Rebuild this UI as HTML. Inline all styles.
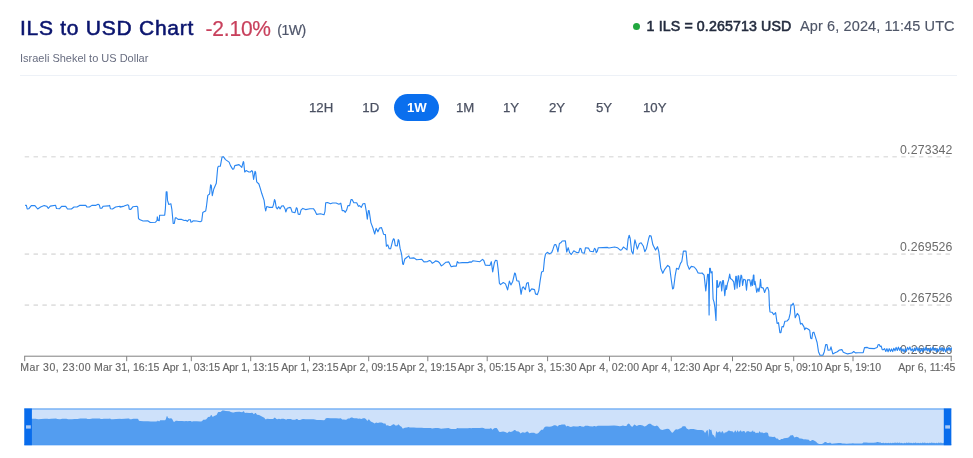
<!DOCTYPE html>
<html><head><meta charset="utf-8">
<style>
html,body{margin:0;padding:0;background:#fff;}
body{will-change:transform;width:973px;height:458px;position:relative;overflow:hidden;font-family:"Liberation Sans",sans-serif;}
.abs{position:absolute;white-space:nowrap;line-height:1;}
#title{left:19.9px;top:16.9px;font-size:21px;font-weight:normal;color:#0a146e;letter-spacing:0.75px;-webkit-text-stroke:0.55px #0a146e;}
#pct{left:205.5px;top:18px;font-size:21px;color:#c8405c;letter-spacing:-0.2px;transform:scaleY(1.09);transform-origin:0 84%;-webkit-text-stroke:0.2px #c8405c;}
#per{left:277.3px;top:23.2px;font-size:14px;color:#4f566b;letter-spacing:-0.45px;-webkit-text-stroke:0.2px #4f566b;}
#sub{left:20px;top:53px;font-size:11px;color:#686d80;}
#hr{left:20px;top:75px;width:937px;height:1px;background:#edf1f7;}
#dot{left:632.9px;top:22.7px;width:7.4px;height:7.4px;border-radius:50%;background:#22a83f;}
#rate{left:646.6px;top:19.3px;font-size:14.2px;font-weight:normal;color:#232b3e;letter-spacing:0.12px;-webkit-text-stroke:0.55px #232b3e;}
#date{left:800px;top:19px;font-size:14.5px;color:#4f5668;letter-spacing:0.12px;-webkit-text-stroke:0.15px #4f5668;}
.tab{font-size:13.2px;color:#4b5162;top:101px;-webkit-text-stroke:0.25px #4b5162;}
#pill{left:394px;top:94px;width:45px;height:27px;border-radius:14px;background:#0a6fee;}
.yl{font-size:12.3px;color:#6b6b6b;right:20.4px;margin-top:-0.3px;letter-spacing:0.15px;}
.xl{font-size:10.5px;color:#666;top:362.3px;-webkit-text-stroke:0.15px #666;}
</style></head><body>
<div class="abs" id="title">ILS to USD Chart</div>
<div class="abs" id="pct">-2.10%</div>
<div class="abs" id="per">(1W)</div>
<div class="abs" id="sub">Israeli Shekel to US Dollar</div>
<div class="abs" id="hr"></div>
<div class="abs" id="dot"></div>
<div class="abs" id="rate">1 ILS = 0.265713 USD</div>
<div class="abs" id="date">Apr 6, 2024, 11:45 UTC</div>

<div class="abs" id="pill"></div>
<div class="abs tab" style="left:309px">12H</div>
<div class="abs tab" style="left:362.3px">1D</div>
<div class="abs tab" style="left:407px;color:#fff;font-weight:bold;-webkit-text-stroke:0">1W</div>
<div class="abs tab" style="left:456px">1M</div>
<div class="abs tab" style="left:503px">1Y</div>
<div class="abs tab" style="left:549px">2Y</div>
<div class="abs tab" style="left:596px">5Y</div>
<div class="abs tab" style="left:643px">10Y</div>

<div class="abs yl" style="top:144px">0.273342</div>
<div class="abs yl" style="top:241px">0.269526</div>
<div class="abs yl" style="top:292px">0.267526</div>
<div class="abs yl" style="top:344.5px">0.265526</div>
<svg class="abs" id="chart" style="left:0;top:0" width="973" height="458" viewBox="0 0 973 458">
 <g stroke="#e1e1e1" stroke-width="1.6" stroke-dasharray="4.427 4.427" fill="none">
  <line x1="24.7" y1="156.7" x2="950" y2="156.7"/>
  <line x1="24.7" y1="254.1" x2="950" y2="254.1"/>
  <line x1="24.7" y1="305.1" x2="950" y2="305.1"/>
 </g>
 <g stroke="#808080" stroke-width="1" fill="none">
  <line x1="24.2" y1="356.2" x2="951.8" y2="356.2"/>
  <line x1="24.7" y1="356.2" x2="24.7" y2="361.2"/><line x1="126.7" y1="356.2" x2="126.7" y2="361.2"/><line x1="191.3" y1="356.2" x2="191.3" y2="361.2"/><line x1="250.7" y1="356.2" x2="250.7" y2="361.2"/><line x1="309.5" y1="356.2" x2="309.5" y2="361.2"/><line x1="368.7" y1="356.2" x2="368.7" y2="361.2"/><line x1="427.8" y1="356.2" x2="427.8" y2="361.2"/><line x1="487.2" y1="356.2" x2="487.2" y2="361.2"/><line x1="547.6" y1="356.2" x2="547.6" y2="361.2"/><line x1="609.5" y1="356.2" x2="609.5" y2="361.2"/><line x1="671.3" y1="356.2" x2="671.3" y2="361.2"/><line x1="732.5" y1="356.2" x2="732.5" y2="361.2"/><line x1="793.7" y1="356.2" x2="793.7" y2="361.2"/><line x1="853" y1="356.2" x2="853" y2="361.2"/><line x1="951.2" y1="356.2" x2="951.2" y2="361.2"/>
 </g>
 <polyline id="line" fill="none" stroke="#2986f2" stroke-width="1.12" stroke-linejoin="round" points="25.1,205.4 26.4,205.4 27.2,209.0 28.7,208.8 31.3,205.6 34.9,205.6 37.7,209.0 40.6,207.0 44.2,205.6 46.7,206.2 48.3,208.3 50.3,206.1 55.5,205.2 56.5,208.5 59.6,208.7 61.6,206.4 65.7,206.4 67.5,209.0 71.4,209.0 74.0,207.0 77.0,207.0 79.6,205.4 85.8,205.2 86.8,207.0 89.4,207.0 91.9,205.4 95.5,205.4 98.1,204.2 99.3,204.9 100.2,208.3 101.7,208.3 103.2,206.2 108.4,205.9 109.6,205.4 110.4,208.7 112.5,209.0 115.6,207.0 120.0,206.2 120.0,207.1 124.1,206.1 127.7,204.7 128.7,205.6 129.2,209.2 130.8,209.4 132.8,206.8 137.0,206.3 137.7,207.1 138.5,218.4 139.5,219.6 143.1,221.0 147.7,220.7 150.3,222.5 155.5,222.2 157.0,220.5 157.3,216.9 158.2,220.5 159.3,220.7 159.6,215.3 164.7,215.1 165.4,208.6 166.2,191.7 167.0,191.7 167.5,200.4 168.8,204.5 170.9,203.8 171.9,209.7 173.2,223.5 174.3,223.5 175.3,217.9 176.3,217.9 178.1,219.4 181.7,219.4 184.2,220.5 185.8,220.3 187.3,221.3 188.9,219.7 190.4,219.7 190.9,222.2 192.3,221.8 193.0,220.7 196.6,221.0 200.2,221.7 201.7,221.0 202.8,212.4 204.0,211.7 205.7,211.0 206.4,206.7 207.8,195.4 209.6,194.0 210.6,184.8 211.3,185.5 212.3,195.7 213.8,189.0 216.3,183.3 217.7,167.7 218.4,166.3 220.3,166.3 222.0,157.1 223.4,156.7 225.5,159.6 229.1,162.1 230.5,165.6 232.6,169.1 233.8,168.9 234.8,165.6 239.0,164.6 241.8,167.3 243.3,161.6 243.7,162.1 244.7,172.0 246.1,170.6 248.9,172.0 250.4,172.0 251.8,170.6 252.5,171.3 253.6,179.5 255.0,171.3 255.6,172.0 256.7,181.9 258.9,184.0 260.3,188.3 261.7,193.3 264.1,200.4 265.0,207.4 265.7,211.0 266.7,206.5 269.5,207.4 272.6,207.4 273.5,204.6 274.5,199.6 275.2,201.1 276.2,207.4 277.3,208.9 278.7,206.7 280.1,208.9 281.6,206.0 283.4,205.7 285.1,208.9 285.8,212.0 287.2,208.2 290.1,207.4 290.7,207.7 292.1,212.0 295.0,212.7 296.4,207.7 297.1,208.4 298.2,214.1 299.9,214.4 301.1,209.9 302.8,208.4 305.6,209.6 309.9,208.7 313.4,208.7 314.8,210.6 316.7,214.4 320.5,213.8 324.0,214.8 325.0,211.3 325.7,202.8 327.6,202.5 330.4,203.8 332.6,203.0 336.1,203.0 338.9,204.2 340.8,203.2 342.2,210.6 343.9,210.6 345.3,212.3 346.7,209.9 347.9,205.6 349.6,205.6 351.0,199.6 352.1,199.6 353.8,202.8 356.7,202.8 358.4,206.3 359.5,205.6 361.3,207.3 363.0,203.8 364.9,203.5 366.3,211.3 367.3,219.1 368.4,210.6 369.1,210.6 370.9,222.6 373.0,228.3 374.7,234.0 376.1,228.3 377.9,231.8 379.6,228.0 381.5,227.6 382.9,231.8 383.5,234.2 385.4,234.6 386.4,246.3 387.8,244.9 389.2,248.8 390.6,248.8 392.5,241.3 393.5,238.8 394.2,239.2 395.3,245.6 397.3,246.0 398.2,239.6 398.9,240.3 400.1,248.4 401.6,254.1 402.7,264.0 403.4,264.4 404.8,259.0 407.0,257.3 408.8,255.9 409.8,258.3 414.0,257.9 416.6,259.8 421.8,259.3 424.0,261.9 427.5,261.6 429.6,260.5 430.8,261.2 432.2,263.3 433.6,262.6 435.6,260.9 438.2,261.6 439.6,263.0 441.3,265.9 443.1,264.7 446.0,262.2 448.8,261.9 449.8,264.0 451.2,266.8 453.8,266.1 456.3,266.1 457.3,261.6 458.7,263.0 462.3,262.6 467.9,262.6 470.1,261.9 471.5,262.2 472.8,260.8 476.4,261.2 479.9,261.7 482.5,259.4 483.8,260.5 485.3,265.1 489.9,265.5 491.3,261.7 492.7,271.9 494.4,262.7 495.5,260.2 497.0,260.5 498.1,269.0 499.4,283.2 500.5,284.6 503.3,282.5 505.5,283.9 507.6,289.9 509.4,281.1 510.9,284.9 512.6,281.8 514.7,273.0 515.4,273.6 516.8,280.7 518.9,281.1 519.9,286.1 521.1,294.3 522.2,288.2 523.2,286.8 525.3,289.6 526.7,283.2 528.2,282.5 529.6,291.7 531.7,288.9 534.5,289.6 535.5,293.9 537.4,294.6 538.8,290.3 540.2,280.4 541.6,271.9 543.3,271.2 544.5,259.1 545.5,254.1 547.3,252.3 549.4,253.7 551.6,252.7 553.0,249.2 554.4,244.9 555.8,244.5 557.0,247.8 557.9,252.0 559.4,243.5 560.8,242.8 562.2,241.0 565.4,240.9 566.7,252.0 568.2,247.7 569.6,252.7 571.3,254.5 573.8,250.8 576.3,252.4 578.7,252.7 579.9,248.4 581.0,248.8 582.0,252.7 584.4,253.1 585.5,247.7 588.4,248.1 590.1,251.2 593.3,251.7 594.5,248.4 595.5,249.1 596.2,252.7 597.3,251.2 598.3,247.7 607.5,247.4 608.9,248.0 614.6,247.0 617.4,247.7 620.3,250.2 621.7,249.8 623.4,247.0 625.2,248.4 627.0,249.8 628.1,239.2 629.2,235.2 630.2,238.5 631.6,251.2 633.0,254.1 634.0,246.3 634.9,239.9 635.9,243.4 637.3,249.1 639.4,243.4 641.1,242.7 643.4,246.3 644.8,251.7 646.5,248.4 648.7,238.5 649.6,235.6 651.1,236.1 652.9,244.8 655.5,250.1 657.5,246.7 658.8,251.6 660.8,268.3 662.8,273.3 664.7,269.3 667.7,265.4 669.6,267.0 671.2,279.2 672.6,289.0 673.6,288.0 675.1,276.2 676.5,268.3 678.5,269.3 680.5,263.4 681.8,261.5 683.4,251.1 686.0,251.1 687.3,264.4 689.3,269.3 691.3,266.4 694.2,267.0 696.2,269.3 698.1,272.9 700.0,273.3 702.1,273.0 704.1,275.1 705.8,290.9 707.6,274.4 708.5,274.4 709.1,315.0 709.6,268.2 710.3,268.2 711.0,273.0 712.1,271.6 713.1,299.1 714.0,301.9 714.9,307.4 716.0,320.5 716.8,280.6 717.3,280.6 717.9,287.4 719.0,286.1 719.9,281.9 720.9,281.9 721.7,290.9 722.7,280.6 723.4,280.6 724.8,295.7 725.9,285.4 726.5,289.5 727.5,283.3 728.6,279.9 729.7,274.1 730.5,278.5 732.3,279.9 733.7,281.9 734.7,289.5 735.8,276.4 736.3,276.4 737.1,288.1 738.1,275.8 738.7,275.8 739.6,286.8 741.0,275.1 741.7,275.8 742.6,285.4 743.7,279.2 745.4,279.9 746.5,290.2 747.5,279.9 749.8,279.9 750.9,286.1 752.0,279.9 752.5,285.4 753.4,275.1 753.9,275.1 754.3,284.7 755.0,281.3 755.7,285.4 756.7,292.3 758.0,288.1 758.9,291.6 759.8,286.8 760.5,279.2 761.2,287.4 763.3,288.1 764.6,292.5 766.3,288.1 767.7,287.4 768.8,290.9 769.5,307.4 770.0,312.0 772.1,312.3 773.8,314.6 775.6,312.7 777.1,323.4 778.5,322.7 779.9,332.6 780.9,332.6 782.0,326.5 783.4,326.9 784.9,321.2 787.0,321.0 788.8,319.1 790.2,313.4 791.0,304.9 792.0,305.2 793.1,303.2 794.1,305.6 795.2,317.7 797.3,313.4 799.0,315.6 800.5,324.1 801.9,323.4 804.0,326.9 804.7,329.8 805.9,327.9 807.6,328.8 809.7,330.2 810.7,338.3 811.8,338.7 812.8,332.6 813.9,332.2 815.4,336.8 817.1,342.5 818.5,351.7 820.0,355.3 822.9,355.3 824.3,351.7 825.7,344.6 827.0,344.6 828.1,350.3 830.0,350.0 831.0,346.8 831.7,349.6 832.8,353.9 834.5,352.9 837.3,351.7 839.5,350.0 841.9,349.6 843.3,352.2 845.1,352.9 847.6,353.9 850.8,353.2 852.2,352.9 853.7,351.5 855.4,352.9 858.1,352.7 863.2,352.7 864.5,347.6 867.3,347.4 869.4,348.4 874.5,348.6 877.1,347.6 878.1,344.7 879.2,344.5 880.2,346.6 881.2,346.1 882.2,349.7 883.3,349.7 884.6,348.6 885.8,351.5 886.9,348.6 888.1,351.7 889.2,348.6 890.4,351.4 891.5,348.9 892.7,351.6 893.8,348.3 895.0,350.8 896.1,347.4 897.3,350.5 898.4,347.1 899.6,350.3 900.7,347.6 901.9,351.2 903.0,348.9 904.2,352.2 905.3,348.6 906.5,351.2 907.6,347.4 908.8,349.8 909.9,346.9 911.1,350.8 912.2,348.7 913.4,351.5 914.5,348.1 915.7,350.7 916.8,347.3 918.0,350.8 919.1,348.1 920.3,351.9 921.4,348.8 922.6,351.5 923.7,347.7 924.9,350.6 926.0,347.3 927.2,350.9 928.3,348.8 929.5,351.5 930.6,347.9 931.8,350.6 932.9,347.3 934.1,350.5 935.2,348.2 936.4,351.7 937.5,348.8 938.7,351.3 939.8,347.5 941.0,350.5 942.1,347.5 943.3,351.4 944.4,348.4 945.6,351.9 946.7,348.1 947.9,350.5 949.0,347.3 950.2,351.0 951.3,347.8 951.5,349.6"/>
 <!-- navigator -->
 <rect x="24.3" y="408.5" width="927" height="36.7" fill="#cee1fa"/>
 <path d="M25.8,445 L25.8,418.6 L27.1,418.6 L27.9,419.2 L29.4,419.2 L32.0,418.7 L35.6,418.7 L38.4,419.2 L41.2,418.9 L44.8,418.7 L47.4,418.8 L48.9,419.1 L51.0,418.7 L56.1,418.6 L57.1,419.1 L60.2,419.2 L62.2,418.8 L66.4,418.8 L68.1,419.2 L72.0,419.2 L74.6,418.9 L77.6,418.9 L80.2,418.6 L86.4,418.6 L87.4,418.9 L89.9,418.9 L92.5,418.6 L96.1,418.6 L98.7,418.4 L99.9,418.5 L100.7,419.1 L102.2,419.1 L103.8,418.8 L108.9,418.7 L110.1,418.6 L111.0,419.2 L113.0,419.2 L116.1,418.9 L120.5,418.8 L120.6,418.9 L124.6,418.7 L128.2,418.5 L129.2,418.6 L129.7,419.2 L131.3,419.3 L133.3,418.8 L137.4,418.8 L138.1,418.9 L139.0,420.8 L140.0,421.0 L143.6,421.2 L148.2,421.2 L150.8,421.5 L155.9,421.5 L157.4,421.2 L157.7,420.5 L158.7,421.2 L159.7,421.2 L160.0,420.3 L165.1,420.3 L165.8,419.2 L166.7,416.3 L167.4,416.3 L167.9,417.8 L169.2,418.5 L171.3,418.3 L172.3,419.3 L173.6,421.7 L174.7,421.7 L175.7,420.7 L176.7,420.7 L178.5,421.0 L182.0,421.0 L184.6,421.2 L186.1,421.1 L187.7,421.3 L189.2,421.0 L190.8,421.0 L191.3,421.5 L192.6,421.4 L193.3,421.2 L196.9,421.2 L200.5,421.4 L202.0,421.2 L203.2,419.8 L204.3,419.7 L206.0,419.6 L206.7,418.8 L208.1,416.9 L210.0,416.7 L211.0,415.1 L211.7,415.3 L212.7,417.0 L214.1,415.9 L216.6,414.9 L218.0,412.3 L218.7,412.0 L220.6,412.0 L222.3,410.5 L223.7,410.4 L225.8,410.9 L229.4,411.3 L230.8,411.9 L232.9,412.5 L234.0,412.5 L235.0,411.9 L239.3,411.7 L242.1,412.2 L243.5,411.2 L243.9,411.3 L244.9,413.0 L246.3,412.7 L249.2,413.0 L250.6,413.0 L252.0,412.7 L252.7,412.9 L253.8,414.2 L255.3,412.9 L255.8,413.0 L257.0,414.7 L259.1,415.0 L260.5,415.7 L261.9,416.6 L264.3,417.8 L265.2,419.0 L265.9,419.6 L266.9,418.8 L269.7,419.0 L272.8,419.0 L273.7,418.5 L274.7,417.6 L275.4,417.9 L276.4,419.0 L277.5,419.2 L278.9,418.8 L280.3,419.2 L281.7,418.7 L283.6,418.7 L285.3,419.2 L286.0,419.7 L287.4,419.1 L290.2,419.0 L290.9,419.0 L292.3,419.7 L295.1,419.8 L296.5,419.0 L297.2,419.1 L298.4,420.1 L300.1,420.1 L301.2,419.4 L302.9,419.1 L305.7,419.3 L310.0,419.2 L313.5,419.2 L314.9,419.5 L316.8,420.1 L320.6,420.0 L324.1,420.2 L325.1,419.6 L325.8,418.2 L327.7,418.1 L330.5,418.3 L332.6,418.2 L336.2,418.2 L339.0,418.4 L340.8,418.2 L342.2,419.5 L343.9,419.5 L345.4,419.8 L346.8,419.4 L347.9,418.6 L349.6,418.6 L351.0,417.6 L352.2,417.6 L353.9,418.2 L356.7,418.2 L358.4,418.8 L359.5,418.6 L361.4,418.9 L363.1,418.3 L364.9,418.3 L366.3,419.6 L367.3,420.9 L368.4,419.5 L369.1,419.5 L370.8,421.5 L373.0,422.5 L374.7,423.4 L376.1,422.5 L377.9,423.1 L379.6,422.4 L381.5,422.4 L382.9,423.1 L383.5,423.5 L385.4,423.5 L386.3,425.5 L387.8,425.3 L389.2,425.9 L390.6,425.9 L392.4,424.7 L393.4,424.2 L394.1,424.3 L395.3,425.4 L397.2,425.5 L398.1,424.4 L398.8,424.5 L400.1,425.9 L401.5,426.8 L402.6,428.5 L403.3,428.6 L404.7,427.7 L406.9,427.4 L408.7,427.1 L409.7,427.5 L413.9,427.5 L416.5,427.8 L421.7,427.7 L423.9,428.1 L427.4,428.1 L429.5,427.9 L430.6,428.0 L432.1,428.4 L433.5,428.3 L435.5,428.0 L438.0,428.1 L439.4,428.3 L441.1,428.8 L443.0,428.6 L445.8,428.2 L448.6,428.1 L449.6,428.5 L451.0,429.0 L453.6,428.9 L456.1,428.9 L457.1,428.1 L458.5,428.3 L462.1,428.3 L467.7,428.3 L469.9,428.1 L471.3,428.2 L472.6,428.0 L476.2,428.0 L479.7,428.1 L482.2,427.7 L483.5,427.9 L485.1,428.7 L489.6,428.8 L491.0,428.1 L492.4,429.8 L494.1,428.3 L495.3,427.9 L496.7,427.9 L497.8,429.4 L499.1,431.7 L500.2,432.0 L503.1,431.6 L505.2,431.9 L507.3,432.9 L509.1,431.4 L510.6,432.0 L512.3,431.5 L514.4,430.0 L515.1,430.1 L516.5,431.3 L518.6,431.4 L519.6,432.2 L520.7,433.6 L521.9,432.6 L522.9,432.3 L525.0,432.8 L526.4,431.7 L527.8,431.6 L529.2,433.2 L531.4,432.7 L534.2,432.8 L535.2,433.5 L537.0,433.7 L538.4,432.9 L539.9,431.3 L541.3,429.8 L543.0,429.7 L544.1,427.7 L545.1,426.8 L546.9,426.5 L549.1,426.8 L551.2,426.6 L552.6,426.0 L554.0,425.3 L555.4,425.2 L556.6,425.8 L557.6,426.5 L559.0,425.0 L560.4,424.9 L561.8,424.6 L565.0,424.6 L566.3,426.5 L567.8,425.8 L569.2,426.6 L570.9,426.9 L573.3,426.3 L575.9,426.5 L578.3,426.6 L579.4,425.9 L580.6,425.9 L581.5,426.6 L583.9,426.7 L585.1,425.8 L587.9,425.8 L589.6,426.3 L592.9,426.4 L594.0,425.9 L595.0,426.0 L595.7,426.6 L596.8,426.3 L597.8,425.8 L607.0,425.7 L608.4,425.8 L614.1,425.6 L616.9,425.8 L619.8,426.2 L621.2,426.1 L622.9,425.6 L624.7,425.9 L626.4,426.1 L627.5,424.3 L628.7,423.6 L629.7,424.2 L631.1,426.3 L632.5,426.8 L633.5,425.5 L634.3,424.4 L635.3,425.0 L636.7,426.0 L638.9,425.0 L640.6,424.9 L642.8,425.5 L644.3,426.4 L646.0,425.9 L648.1,424.2 L649.1,423.7 L650.5,423.8 L652.4,425.3 L654.9,426.2 L656.9,425.6 L658.2,426.4 L660.2,429.2 L662.2,430.1 L664.1,429.4 L667.1,428.7 L669.0,429.0 L670.6,431.1 L672.0,432.7 L672.9,432.5 L674.5,430.6 L675.9,429.2 L677.8,429.4 L679.8,428.4 L681.2,428.1 L682.7,426.3 L685.3,426.3 L686.7,428.6 L688.6,429.4 L690.6,428.9 L693.5,429.0 L695.5,429.4 L697.5,430.0 L699.3,430.1 L701.4,430.0 L703.4,430.4 L705.1,433.0 L706.9,430.3 L707.8,430.3 L708.4,437.1 L708.9,429.2 L709.6,429.2 L710.3,430.0 L711.4,429.8 L712.4,434.4 L713.3,434.9 L714.1,435.8 L715.2,438.0 L716.1,431.3 L716.6,431.3 L717.2,432.5 L718.3,432.2 L719.2,431.5 L720.2,431.5 L721.0,433.0 L722.0,431.3 L722.7,431.3 L724.0,433.8 L725.1,432.1 L725.8,432.8 L726.8,431.8 L727.9,431.2 L729.0,430.2 L729.8,430.9 L731.6,431.2 L732.9,431.5 L733.9,432.8 L735.0,430.6 L735.6,430.6 L736.4,432.6 L737.3,430.5 L737.9,430.5 L738.8,432.3 L740.2,430.4 L740.9,430.5 L741.9,432.1 L743.0,431.1 L744.6,431.2 L745.7,432.9 L746.7,431.2 L749.0,431.2 L750.1,432.2 L751.2,431.2 L751.8,432.1 L752.6,430.4 L753.1,430.4 L753.5,432.0 L754.2,431.4 L754.9,432.1 L755.9,433.3 L757.2,432.6 L758.1,433.2 L759.0,432.3 L759.7,431.1 L760.4,432.5 L762.5,432.6 L763.8,433.3 L765.5,432.6 L766.9,432.5 L768.0,433.0 L768.6,435.8 L769.1,436.6 L771.3,436.7 L773.0,437.0 L774.8,436.7 L776.2,438.5 L777.6,438.4 L779.0,440.1 L780.0,440.1 L781.2,439.0 L782.6,439.1 L784.0,438.2 L786.1,438.1 L788.0,437.8 L789.4,436.8 L790.1,435.4 L791.1,435.5 L792.2,435.1 L793.2,435.5 L794.3,437.6 L796.5,436.8 L798.2,437.2 L799.6,438.6 L801.0,438.5 L803.1,439.1 L803.8,439.6 L804.9,439.3 L806.6,439.4 L808.8,439.7 L809.8,441.0 L810.9,441.1 L811.9,440.1 L813.0,440.0 L814.4,440.8 L816.1,441.7 L817.5,443.3 L819.1,443.9 L821.9,443.9 L823.4,443.3 L824.8,442.1 L826.0,442.1 L827.2,443.1 L829.0,443.0 L830.0,442.5 L830.7,442.9 L831.8,443.7 L833.5,443.5 L836.4,443.3 L838.5,443.0 L840.9,442.9 L842.3,443.4 L844.2,443.5 L846.6,443.7 L849.8,443.5 L851.2,443.5 L852.7,443.3 L854.4,443.5 L857.1,443.5 L862.2,443.5 L863.4,442.6 L866.3,442.6 L868.4,442.7 L873.5,442.8 L876.0,442.6 L877.1,442.1 L878.1,442.1 L879.1,442.4 L880.2,442.3 L881.2,443.0 L882.2,443.0 L883.6,442.8 L884.7,443.3 L885.9,442.8 L887.0,443.3 L888.2,442.8 L889.3,443.3 L890.5,442.8 L891.6,443.3 L892.8,442.7 L893.9,443.1 L895.1,442.6 L896.2,443.1 L897.4,442.5 L898.5,443.1 L899.7,442.6 L900.8,443.2 L901.9,442.8 L903.1,443.4 L904.2,442.8 L905.4,443.2 L906.5,442.6 L907.7,443.0 L908.8,442.5 L910.0,443.1 L911.1,442.8 L912.3,443.3 L913.4,442.7 L914.6,443.1 L915.7,442.5 L916.9,443.2 L918.0,442.7 L919.2,443.3 L920.3,442.8 L921.5,443.3 L922.6,442.6 L923.8,443.1 L924.9,442.6 L926.0,443.2 L927.2,442.8 L928.3,443.3 L929.5,442.7 L930.6,443.1 L931.8,442.6 L932.9,443.1 L934.1,442.7 L935.2,443.3 L936.4,442.8 L937.5,443.2 L938.7,442.6 L939.8,443.1 L941.0,442.6 L942.1,443.2 L943.3,442.7 L944.4,443.3 L945.6,442.7 L946.7,443.1 L947.9,442.6 L949.0,443.2 L950.2,442.6 L950.3,442.9 L950.3,445 Z" fill="#539df0"/>
 <line x1="24.3" y1="409" x2="951.3" y2="409" stroke="#4f9bf3" stroke-width="1"/>
 <line x1="24.3" y1="444.8" x2="951.3" y2="444.8" stroke="#4f9bf3" stroke-width="1"/>
 <rect x="24.3" y="408.5" width="7.6" height="36.7" fill="#086cec"/>
 <rect x="943.8" y="408.5" width="7.5" height="36.7" fill="#086cec"/>
 <rect x="26" y="425.3" width="4.8" height="3.3" fill="#a9c9f6"/>
 <rect x="945.2" y="425.3" width="4.8" height="3.3" fill="#a9c9f6"/>
</svg>

<div class="abs xl" style="left:20.20px;letter-spacing:0.477px">Mar 30, 23:00</div>
<div class="abs xl" style="left:94.10px;letter-spacing:0.046px">Mar 31, 16:15</div>
<div class="abs xl" style="left:162.70px;letter-spacing:0.023px">Apr 1, 03:15</div>
<div class="abs xl" style="left:222.40px;letter-spacing:-0.077px">Apr 1, 13:15</div>
<div class="abs xl" style="left:281.20px;letter-spacing:0.015px">Apr 1, 23:15</div>
<div class="abs xl" style="left:340.00px;letter-spacing:0.073px">Apr 2, 09:15</div>
<div class="abs xl" style="left:399.70px;letter-spacing:-0.043px">Apr 2, 19:15</div>
<div class="abs xl" style="left:457.80px;letter-spacing:0.073px">Apr 3, 05:15</div>
<div class="abs xl" style="left:517.70px;letter-spacing:0.165px">Apr 3, 15:30</div>
<div class="abs xl" style="left:579.00px;letter-spacing:0.265px">Apr 4, 02:00</div>
<div class="abs xl" style="left:641.80px;letter-spacing:0.115px">Apr 4, 12:30</div>
<div class="abs xl" style="left:702.90px;letter-spacing:0.207px">Apr 4, 22:50</div>
<div class="abs xl" style="left:764.90px;letter-spacing:0.048px">Apr 5, 09:10</div>
<div class="abs xl" style="left:824.80px;letter-spacing:-0.077px">Apr 5, 19:10</div>
<div class="abs xl" style="left:898.30px;letter-spacing:0.064px">Apr 6, 11:45</div>

</body></html>
